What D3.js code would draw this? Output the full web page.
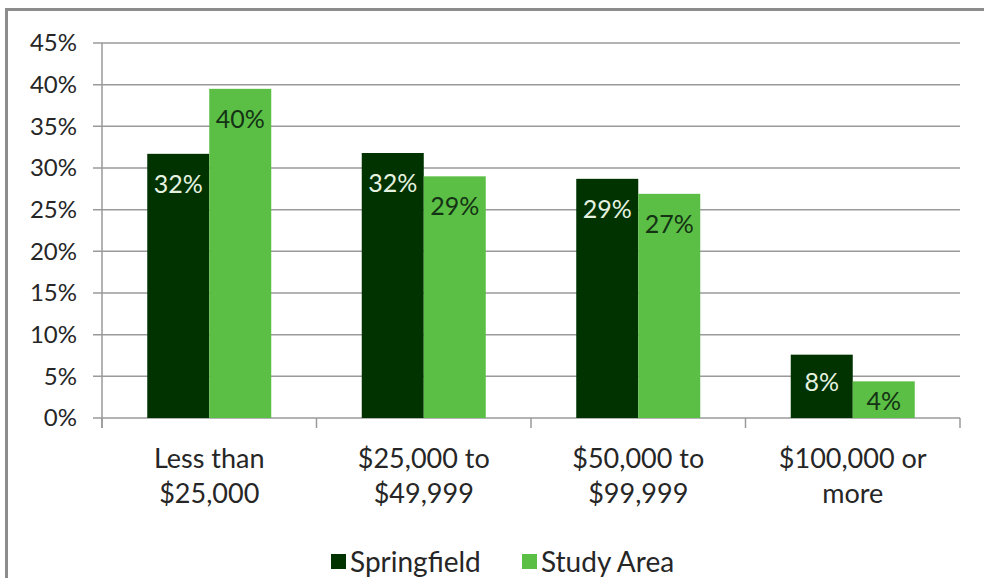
<!DOCTYPE html>
<html><head><meta charset="utf-8">
<script src="https://cdn.jsdelivr.net/npm/d3@7"></script>
<style>
html,body{margin:0;padding:0;background:#fff;}
svg{display:block;font-family:Lato,"Open Sans",sans-serif;}
</style></head><body>
<svg id="c" width="984" height="578"></svg>
<script>
const categories = [["Less than","$25,000"],["$25,000 to","$49,999"],["$50,000 to","$99,999"],["$100,000 or","more"]];
const seriesNames = ["Springfield","Study Area"];
const springfield = [31.7, 31.8, 28.7, 7.6];
const studyArea = [39.5, 29.0, 26.9, 4.4];
const yTicks = [0,5,10,15,20,25,30,35,40,45];
const colors = ["#003300","#5bbf45"];
const labelColors = ["#e6f2e0","#143214"];

const svg = d3.select("#c");
svg.append("rect").attr("x",6.5).attr("y",9.5).attr("width",1000).attr("height",600)
  .attr("fill","#fff").attr("stroke","#8c8c8c").attr("stroke-width",3);

const m = {l:102, r:960, t:43, b:418};
const x = d3.scaleBand().domain(d3.range(categories.length)).range([m.l,m.r]);
const xs = d3.scaleBand().domain(d3.range(2)).range([0,x.bandwidth()]).paddingInner(0).paddingOuter(0.73);
const y = d3.scaleLinear().domain([0,45]).range([m.b,m.t]);

svg.append("g").selectAll("line").data(yTicks).join("line")
  .attr("x1",m.l-9).attr("x2",m.r).attr("y1",d=>y(d)).attr("y2",d=>y(d))
  .attr("stroke","#9a9a9a").attr("stroke-width",1.5);
svg.append("line").attr("x1",m.l).attr("x2",m.l).attr("y1",m.t).attr("y2",m.b+10)
  .attr("stroke","#9a9a9a").attr("stroke-width",1.5);
svg.append("g").selectAll("text").data(yTicks).join("text")
  .attr("x",m.l-25).attr("y",d=>y(d)).attr("dy","0.35em").attr("text-anchor","end")
  .attr("font-size",24).attr("fill","#262626").text(d=>d+"%");
const bounds = d3.range(categories.length+1).map(i=> i<categories.length ? x(i) : m.r);
svg.append("g").selectAll("line").data(bounds).join("line")
  .attr("x1",d=>d).attr("x2",d=>d).attr("y1",m.b).attr("y2",m.b+10)
  .attr("stroke","#9a9a9a").attr("stroke-width",1.5);

const data = [springfield, studyArea];
data.forEach((vals,s)=>{
  const g = svg.append("g");
  g.selectAll("rect").data(vals).join("rect")
    .attr("x",(d,i)=>x(i)+xs(s)).attr("width",xs.bandwidth())
    .attr("y",d=>y(d)).attr("height",d=>y(0)-y(d)).attr("fill",colors[s]);
  g.selectAll("text").data(vals).join("text")
    .attr("x",(d,i)=>x(i)+xs(s)+xs.bandwidth()/2)
    .attr("y",d=>{const h=y(0)-y(d); return y(d)+Math.min(30, 10+h*0.27);})
    .attr("dy","0.35em").attr("text-anchor","middle").attr("font-size",25)
    .attr("fill",labelColors[s]).text(d=>Math.round(d)+"%");
});

const cl = svg.append("g").selectAll("text").data(categories).join("text")
  .attr("x",(d,i)=>x(i)+x.bandwidth()/2).attr("y",459).attr("text-anchor","middle")
  .attr("font-size",27).attr("fill","#262626");
cl.each(function(d){
  const t = d3.select(this);
  d.forEach((line,j)=>t.append("tspan").attr("x",t.attr("x")).attr("dy",j===0?"0.35em":35).text(line));
});

const legX = [331, 522];
seriesNames.forEach((n,i)=>{
  svg.append("rect").attr("x",legX[i]).attr("y",554).attr("width",15).attr("height",15).attr("fill",colors[i]);
  svg.append("text").attr("x",legX[i]+19).attr("y",562).attr("dy","0.35em")
    .attr("font-size",28).attr("fill","#262626").text(n);
});
</script>
</body></html>
